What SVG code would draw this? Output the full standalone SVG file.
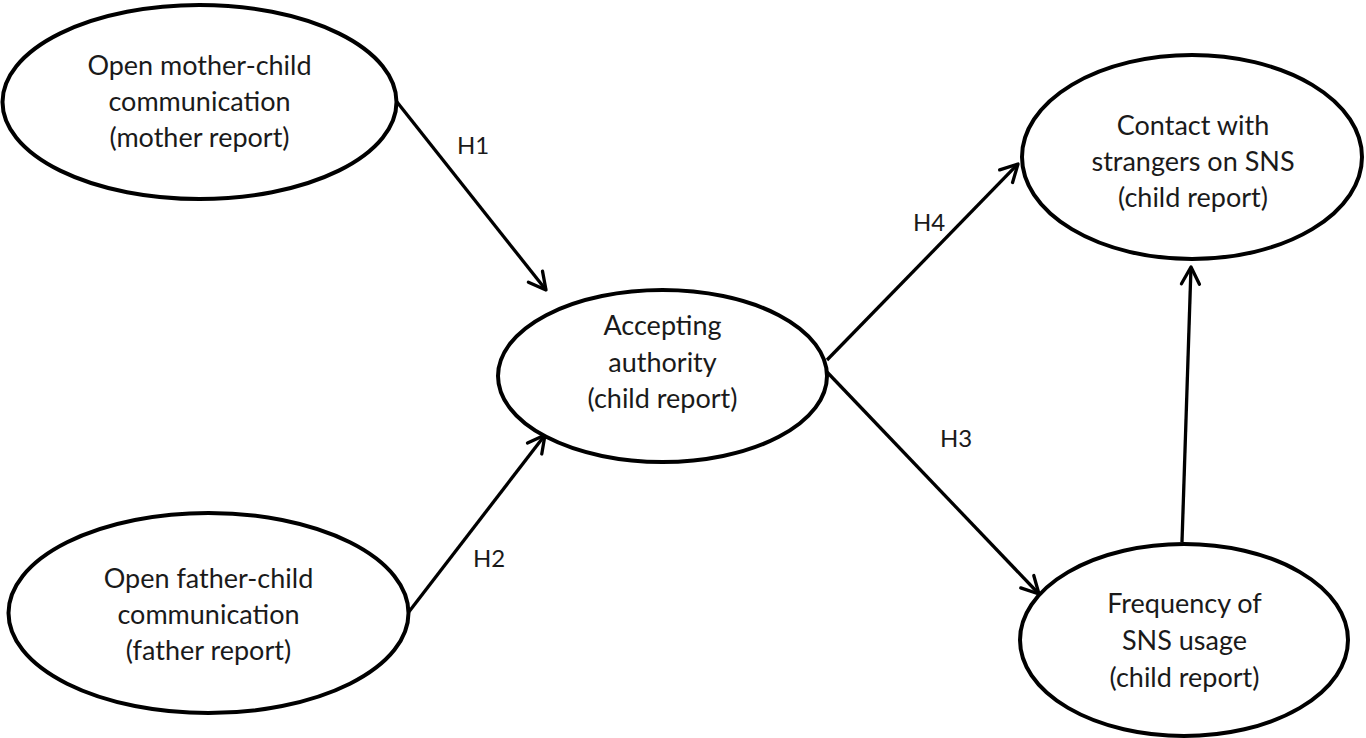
<svg xmlns="http://www.w3.org/2000/svg" width="1366" height="738" viewBox="0 0 1366 738">
<style>
.node{fill:#fff;stroke:#000;stroke-width:4}
.t{font-family:Lato,"Liberation Sans",sans-serif;font-size:27px;fill:#1a1a1a;text-anchor:middle}
.lbl{font-family:Lato,"Liberation Sans",sans-serif;font-size:24px;fill:#1a1a1a}
.edge{stroke:#000;stroke-width:3.3;fill:none;marker-end:url(#arr)}
</style>
<defs>
<marker id="arr" markerUnits="userSpaceOnUse" markerWidth="30" markerHeight="30" refX="0" refY="0" viewBox="-20 -15 30 30" orient="auto">
<path d="M -17 -9 L 0 0 L -17 9" fill="none" stroke="#000" stroke-width="3.3" stroke-linecap="round" stroke-linejoin="round"/>
</marker>
</defs>
<g id="connectors">
<line class="edge" x1="397" y1="102" x2="546" y2="290"/>
<line class="edge" x1="408" y1="613" x2="545" y2="435"/>
<line class="edge" x1="827" y1="360" x2="1018" y2="164"/>
<line class="edge" x1="827" y1="372" x2="1039" y2="594"/>
<line class="edge" x1="1182" y1="542" x2="1191" y2="267"/>
<text class="lbl" x="457" y="154">H1</text>
<text class="lbl" x="473" y="567">H2</text>
<text class="lbl" x="940" y="447">H3</text>
<text class="lbl" x="913" y="231">H4</text>
</g>
<g id="node-mother">
<ellipse class="node" cx="199.5" cy="102" rx="197" ry="97"/>
<text class="t" x="199.5" y="75">Open mother-child</text>
<text class="t" x="199.5" y="111">communication</text>
<text class="t" x="199.5" y="147">(mother report)</text>
</g>
<g id="node-father">
<ellipse class="node" cx="208.5" cy="613" rx="200" ry="100"/>
<text class="t" x="208.5" y="588">Open father-child</text>
<text class="t" x="208.5" y="624">communication</text>
<text class="t" x="208.5" y="660">(father report)</text>
</g>
<g id="node-authority">
<ellipse class="node" cx="662.5" cy="376" rx="164.5" ry="86"/>
<text class="t" x="662.5" y="335">Accepting</text>
<text class="t" x="662.5" y="372">authority</text>
<text class="t" x="662.5" y="408">(child report)</text>
</g>
<g id="node-contact">
<ellipse class="node" cx="1192" cy="157" rx="170" ry="102"/>
<text class="t" x="1193" y="135">Contact with</text>
<text class="t" x="1193" y="171">strangers on SNS</text>
<text class="t" x="1193" y="207">(child report)</text>
</g>
<g id="node-frequency">
<ellipse class="node" cx="1184" cy="640" rx="164" ry="96"/>
<text class="t" x="1184.5" y="613">Frequency of</text>
<text class="t" x="1184.5" y="650">SNS usage</text>
<text class="t" x="1184.5" y="687">(child report)</text>
</g>
</svg>
